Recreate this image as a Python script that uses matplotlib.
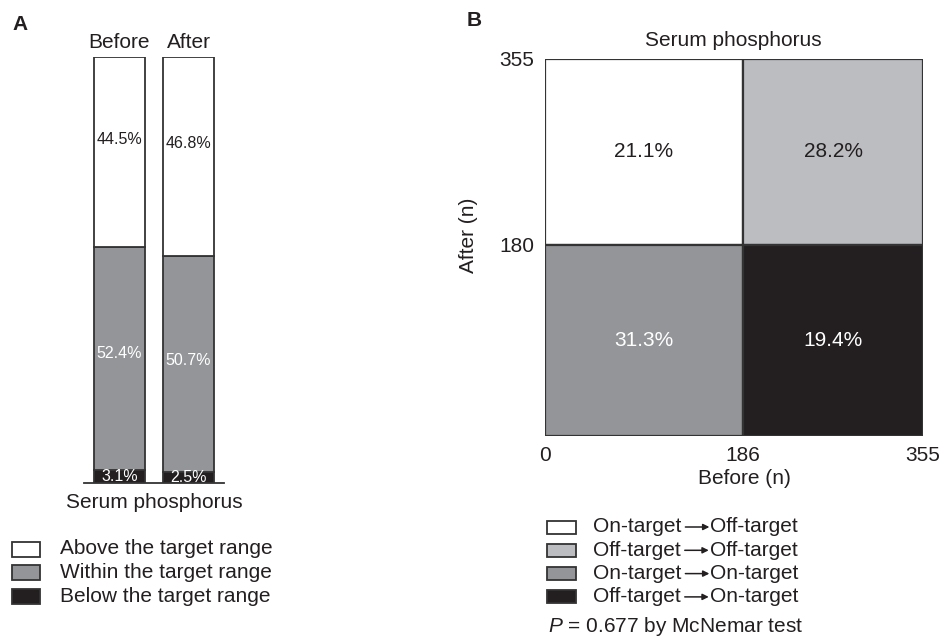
import matplotlib
matplotlib.use("Agg")
import matplotlib.pyplot as plt
from matplotlib.patches import Rectangle, FancyArrowPatch

plt.rcParams['font.family'] = ['Liberation Sans', 'DejaVu Sans']
plt.rcParams['mathtext.fontset'] = 'custom'
plt.rcParams['mathtext.rm'] = 'Liberation Sans'
plt.rcParams['mathtext.it'] = 'Liberation Sans:italic'

# panel A: share of patients by serum phosphorus range
periods = ["Before", "After"]
below = [3.1, 2.5]
within = [52.4, 50.7]
above = [44.5, 46.8]
range_labels = ["Above the target range", "Within the target range", "Below the target range"]

# panel B: before/after transitions (n = 355)
total_n = 355
before_on_n = 186
after_on_n = 180
cell_pct = {
    "on_off": 21.1,
    "off_off": 28.2,
    "on_on": 31.3,
    "off_on": 19.4,
}
trans_from = ["On-target", "Off-target", "On-target", "Off-target"]
trans_to = ["Off-target", "Off-target", "On-target", "On-target"]
p_value = 0.677

WHITE = "#ffffff"
LIGHT = "#bcbdc0"
MID = "#939598"
DARK = "#231f20"
EDGE = "#333333"
TXT = "#231f20"
FS = 15

W, H = 939, 637
fig = plt.figure(figsize=(W / 100, H / 100), dpi=100)


def fx(x):
    return x / W


def fy(y):
    return 1 - y / H


def px_axes(x0, y0, x1, y1):
    return fig.add_axes([fx(x0), fy(y1), fx(x1) - fx(x0), fy(y0) - fy(y1)])


def ftext(x, y, s, **kw):
    kw.setdefault("fontsize", FS)
    kw.setdefault("color", TXT)
    kw.setdefault("va", "center")
    return fig.text(fx(x), fy(y), s, **kw)


# ---- panel A ----
ax = px_axes(84, 57, 224, 483)
pos = [0, 1]
ax.bar(pos, below, width=0.74, color=DARK, edgecolor=EDGE, linewidth=1.3)
ax.bar(pos, within, bottom=below, width=0.74, color=MID, edgecolor=EDGE, linewidth=1.3)
bot2 = [b + w for b, w in zip(below, within)]
ax.bar(pos, above, bottom=bot2, width=0.74, color=WHITE, edgecolor=EDGE, linewidth=1.3)
ax.set_xlim(-0.514, 1.514)
ax.set_ylim(0, 100)
for s in ["top", "left", "right"]:
    ax.spines[s].set_visible(False)
ax.spines["bottom"].set_color(EDGE)
ax.spines["bottom"].set_linewidth(1.3)
ax.set_xticks([])
ax.set_yticks([])
for i in pos:
    x_left = i - 0.37 + 0.035
    ax.text(x_left, bot2[i] + above[i] / 2 + 3, f"{above[i]}%", ha="left", va="center",
            fontsize=11.5, color=TXT)
    ax.text(x_left, below[i] + within[i] / 2 + 1, f"{within[i]}%", ha="left", va="center",
            fontsize=11.5, color="white")
    ax.text(i, below[i] / 2, f"{below[i]}%", ha="center", va="center",
            fontsize=11.5, color="white")
    ax.text(i, 103.5, periods[i], ha="center", va="center", fontsize=FS,
            color=TXT, clip_on=False)

ftext(154, 503, "Serum phosphorus", ha="center")
ftext(12, 25, "A", fontweight="bold", ha="left")

for k, (lab, col) in enumerate(zip(range_labels, [WHITE, MID, DARK])):
    yc = 549 + k * 23.5
    fig.add_artist(Rectangle((fx(12), fy(yc + 7.5)), fx(28), 15 / H,
                             transform=fig.transFigure, facecolor=col,
                             edgecolor=EDGE, linewidth=1.3))
    ftext(60, yc, lab, ha="left")

# ---- panel B ----
bx = px_axes(545, 59, 923, 436)
cells = [
    (0, after_on_n, before_on_n, total_n - after_on_n, WHITE, "on_off", TXT),
    (before_on_n, after_on_n, total_n - before_on_n, total_n - after_on_n, LIGHT, "off_off", TXT),
    (0, 0, before_on_n, after_on_n, MID, "on_on", "white"),
    (before_on_n, 0, total_n - before_on_n, after_on_n, DARK, "off_on", "white"),
]
for x0, y0, w, h, col, key, tcol in cells:
    bx.add_patch(Rectangle((x0, y0), w, h, facecolor=col, edgecolor=EDGE, linewidth=1.6))
    bx.text(x0 + w / 2, y0 + h / 2, f"{cell_pct[key]}%", ha="center", va="center",
            fontsize=FS, color=tcol)
bx.set_xlim(0, total_n)
bx.set_ylim(0, total_n)
for s in bx.spines.values():
    s.set_visible(False)
bx.set_xticks([0, before_on_n, total_n])
bx.set_yticks([after_on_n, total_n])
bx.tick_params(length=0, labelsize=FS, labelcolor=TXT)
bx.tick_params(axis="x", pad=7)
bx.tick_params(axis="y", pad=8)

ftext(744, 479, "Before (n)", ha="center")
ftext(469, 235, "After (n)", ha="center", rotation=90)
ftext(733, 40, "Serum phosphorus", ha="center")
ftext(467, 20, "B", fontweight="bold", ha="left")

renderer = fig.canvas.get_renderer()
for k, col in enumerate([WHITE, LIGHT, MID, DARK]):
    yc = 527 + k * 23.3
    fig.add_artist(Rectangle((fx(547), fy(yc + 6.5)), fx(29), 13 / H,
                             transform=fig.transFigure, facecolor=col,
                             edgecolor=EDGE, linewidth=1.3))
    t = ftext(593, yc, trans_from[k], ha="left")
    x_end = t.get_window_extent(renderer).x1  # pixels from left
    fig.add_artist(FancyArrowPatch((fx(x_end + 4), fy(yc)), (fx(x_end + 28), fy(yc)),
                                   transform=fig.transFigure, arrowstyle="-|>",
                                   mutation_scale=9, linewidth=1.1, color=TXT,
                                   shrinkA=0, shrinkB=0))
    ftext(x_end + 29, yc, trans_to[k], ha="left")
ftext(548, 627, f"$P$ = {p_value} by McNemar test", ha="left")

fig.savefig("out.png", dpi=100)
